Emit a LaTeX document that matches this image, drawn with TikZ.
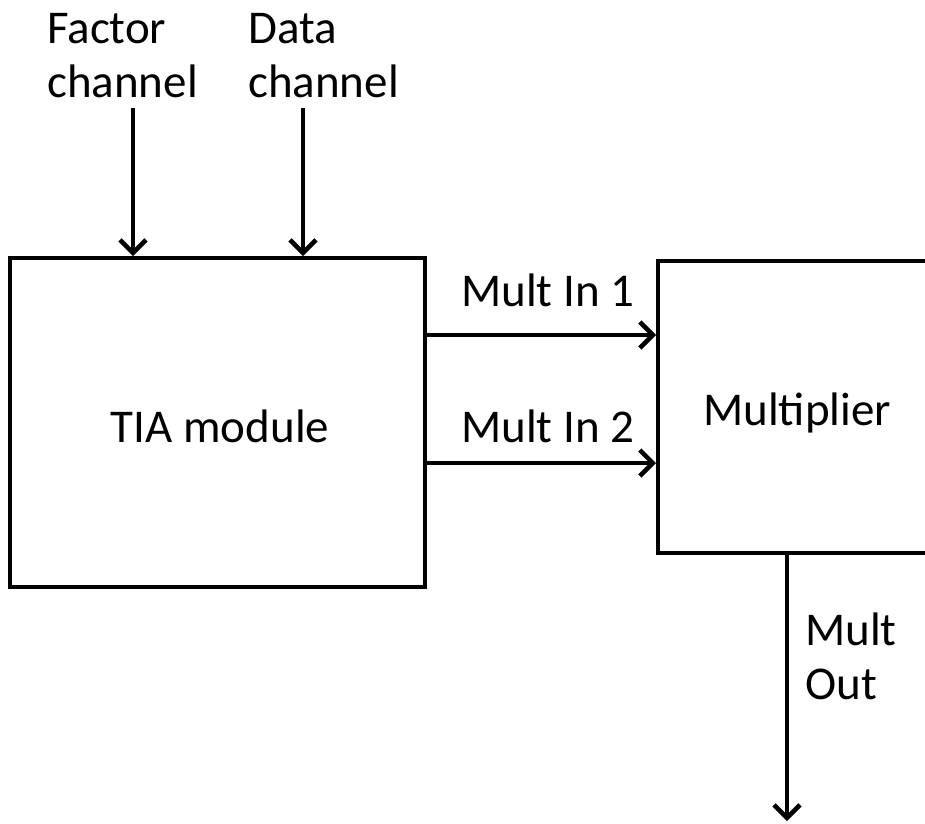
\documentclass[tikz,border=0pt]{standalone}
\usepackage{fontspec}
\setmainfont{Carlito}
\usetikzlibrary{arrows.meta}
\begin{document}
\begin{tikzpicture}[x=1pt,y=-1pt,
  every node/.style={font=\fontsize{47}{54}\selectfont},
  blockbox/.style={draw, line width=4pt, rectangle, inner sep=0pt},
  lbl/.style={inner sep=0pt, align=left, anchor=base west},
  arr/.style={line width=4pt, -{Straight Barb[length=13pt, width=26pt, line width=4.5pt]}}]
  \useasboundingbox (0,0) rectangle (925,823);
  \clip (0,0) rectangle (925,823);

  % blocks
  \node[blockbox, minimum width=415pt, minimum height=329pt] (tia) at (217.5,422.5) {};
  \node[inner sep=0pt, anchor=base] (tiatext) at (220,442) {TIA module};
  \node[blockbox, minimum width=277pt, minimum height=292pt] (mul) at (796.5,407) {};
  \node[lbl] (multext) at (703,425) {Multiplier};

  % labels (multi-line nodes sit on the baseline of their last line)
  \node[lbl] (factor) at (47,97) {Factor\\channel};
  \node[lbl] (data) at (248,97) {Data\\channel};
  \node[lbl] (in1) at (461,306) {Mult In 1};
  \node[lbl] (in2) at (461,442) {Mult In 2};
  \node[lbl] (out) at (805,699) {Mult\\Out};

  % connector endpoints
  \coordinate (fs) at (133,108);
  \coordinate (ds) at (303,108);
  \coordinate (m1) at (0,335);
  \coordinate (m2) at (0,463);
  \coordinate (ox) at (787,0);
  \coordinate (oe) at (787,821);

  % connectors
  \draw[arr] (fs) -- (fs |- tia.north);
  \draw[arr] (ds) -- (ds |- tia.north);
  \draw[arr] (tia.east |- m1) -- (mul.west |- m1);
  \draw[arr] (tia.east |- m2) -- (mul.west |- m2);
  \draw[arr] (ox |- mul.south) -- (oe);
\end{tikzpicture}
\end{document}
